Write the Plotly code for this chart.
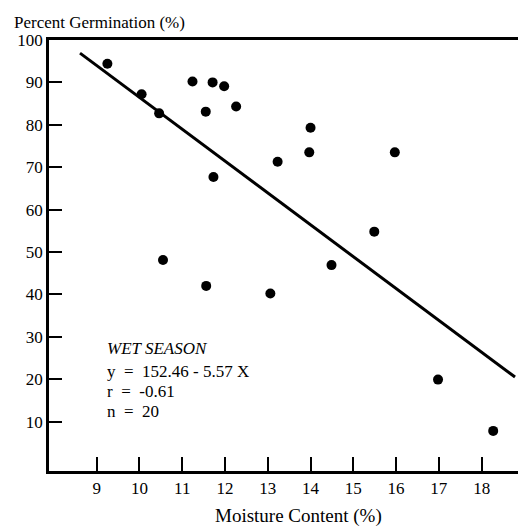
import plotly.graph_objects as go

# Data
moisture = [9.25, 10.05, 10.46, 11.24, 11.71, 11.98, 11.55, 12.26, 11.73, 10.55,
            11.56, 14.0, 13.97, 13.23, 15.97, 15.49, 14.49, 13.06, 16.98, 18.27]
germination = [94.4, 87.2, 82.7, 90.2, 90.0, 89.1, 83.1, 84.3, 67.7, 48.1,
               42.0, 79.3, 73.5, 71.3, 73.5, 54.8, 46.9, 40.2, 19.9, 7.8]

fit_x = [8.61, 18.78]
fit_y = [96.9, 20.5]

x_ticks = [9, 10, 11, 12, 13, 14, 15, 16, 17, 18]
y_ticks = [10, 20, 30, 40, 50, 60, 70, 80, 90, 100]

stats_lines = ["<i>WET SEASON</i>", "y  =  152.46 - 5.57 X", "r  =  -0.61", "n  =  20"]
stats_y = [27.3, 21.7, 17.0, 12.4]

FONT = "Liberation Serif"

fig = go.Figure()
fig.add_trace(go.Scatter(x=fit_x, y=fit_y, mode="lines",
                         line=dict(color="black", width=3), showlegend=False))
fig.add_trace(go.Scatter(x=moisture, y=germination, mode="markers",
                         marker=dict(color="black", size=10), showlegend=False))

for txt, yy in zip(stats_lines, stats_y):
    fig.add_annotation(x=9.2, y=yy, xref="x", yref="y", text=txt, showarrow=False,
                       xanchor="left", yanchor="middle",
                       font=dict(family=FONT, size=17, color="black"))

fig.add_annotation(x=(12-49)/469, y=1.0, xref="paper", yref="paper",
                   text="Percent Germination (%)", showarrow=False,
                   xanchor="left", yanchor="middle", yshift=18,
                   font=dict(family=FONT, size=17, color="black"))
fig.add_annotation(x=(298-49)/469, y=0, xref="paper", yref="paper",
                   text="Moisture Content (%)", showarrow=False,
                   xanchor="center", yanchor="middle", yshift=-45,
                   font=dict(family=FONT, size=19, color="black"))

fig.update_layout(
    width=518, height=532,
    margin=dict(l=49, r=0, t=40, b=61),
    paper_bgcolor="white", plot_bgcolor="white",
    font=dict(family=FONT, size=17, color="black"),
    xaxis=dict(range=[7.885, 18.85], tickvals=x_ticks, ticks="inside", ticklen=14,
               tickwidth=2, tickcolor="black", showline=True, linewidth=2.5,
               linecolor="black", mirror=True, showgrid=False, zeroline=False,
               tickfont=dict(family=FONT, size=17)),
    yaxis=dict(range=[-1.66, 100], tickvals=y_ticks, ticks="inside", ticklen=13,
               tickwidth=2, tickcolor="black", showline=True, linewidth=2.5,
               linecolor="black", showgrid=False, zeroline=False,
               tickfont=dict(family=FONT, size=17)),
)

fig.write_html("out.html")
